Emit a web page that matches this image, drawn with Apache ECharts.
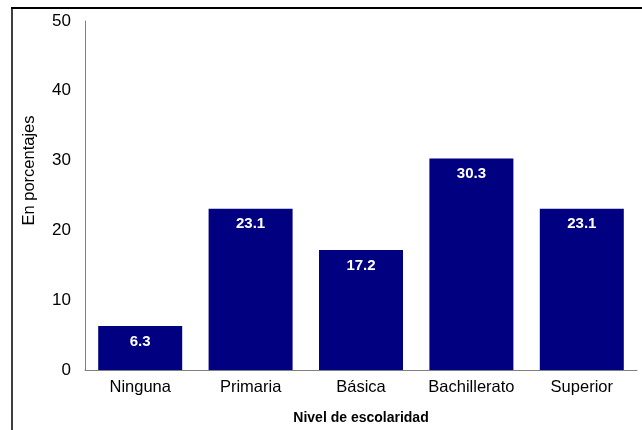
<!DOCTYPE html>
<html>
<head>
<meta charset="utf-8">
<script src="https://cdn.jsdelivr.net/npm/echarts@6/dist/echarts.min.js"></script>
<style>
  html, body { margin: 0; padding: 0; background: #fff; }
  #chart { width: 642px; height: 430px; }
</style>
</head>
<body>
<div id="chart"></div>
<script>
// Education level categories and share of respondents (%)
const categories = ['Ninguna', 'Primaria', 'Básica', 'Bachillerato', 'Superior'];
const values = [6.3, 23.1, 17.2, 30.3, 23.1];
const yTicks = [0, 10, 20, 30, 40, 50];

const chart = echarts.init(document.getElementById('chart'), null, { renderer: 'canvas' });
const font = 'Arial, "Liberation Sans", sans-serif';

chart.setOption({
  animation: false,
  backgroundColor: '#fff',
  grid: { left: 85, right: 5, top: 21, bottom: 60, containLabel: false },
  graphic: [
    // frame edges along the top and left
    { type: 'line', shape: { x1: 11, y1: 8, x2: 642, y2: 8 }, style: { stroke: '#000', lineWidth: 2 } },
    { type: 'line', shape: { x1: 12, y1: 8, x2: 12, y2: 430 }, style: { stroke: '#000', lineWidth: 1.5 } }
  ],
  xAxis: {
    type: 'category',
    data: categories,
    name: 'Nivel de escolaridad',
    nameLocation: 'middle',
    nameGap: 41,
    nameTextStyle: { fontFamily: font, fontSize: 14, fontWeight: 'bold', color: '#000' },
    axisLine: { lineStyle: { color: '#808080', width: 1 } },
    axisTick: { show: false },
    axisLabel: { interval: 0, hideOverlap: false, fontFamily: font, fontSize: 16.5, color: '#000', margin: 9 }
  },
  yAxis: {
    type: 'value',
    min: yTicks[0],
    max: yTicks[yTicks.length - 1],
    interval: 10,
    name: 'En porcentajes',
    nameLocation: 'middle',
    nameGap: 47,
    nameTextStyle: { fontFamily: font, fontSize: 16.5, color: '#000', padding: [0, 0, 0, 50] },
    axisLine: { show: true, lineStyle: { color: '#808080', width: 1 } },
    axisTick: { show: false },
    splitLine: { show: false },
    axisLabel: { fontFamily: font, fontSize: 17, color: '#000', margin: 14 }
  },
  series: [{
    type: 'bar',
    data: values,
    barWidth: 84,
    itemStyle: { color: '#000080' },
    label: {
      show: true,
      position: 'insideTop',
      distance: 8,
      color: '#fff',
      fontFamily: font,
      fontSize: 15,
      fontWeight: 'bold',
      formatter: p => p.value.toFixed(1)
    }
  }]
});
</script>
</body>
</html>
